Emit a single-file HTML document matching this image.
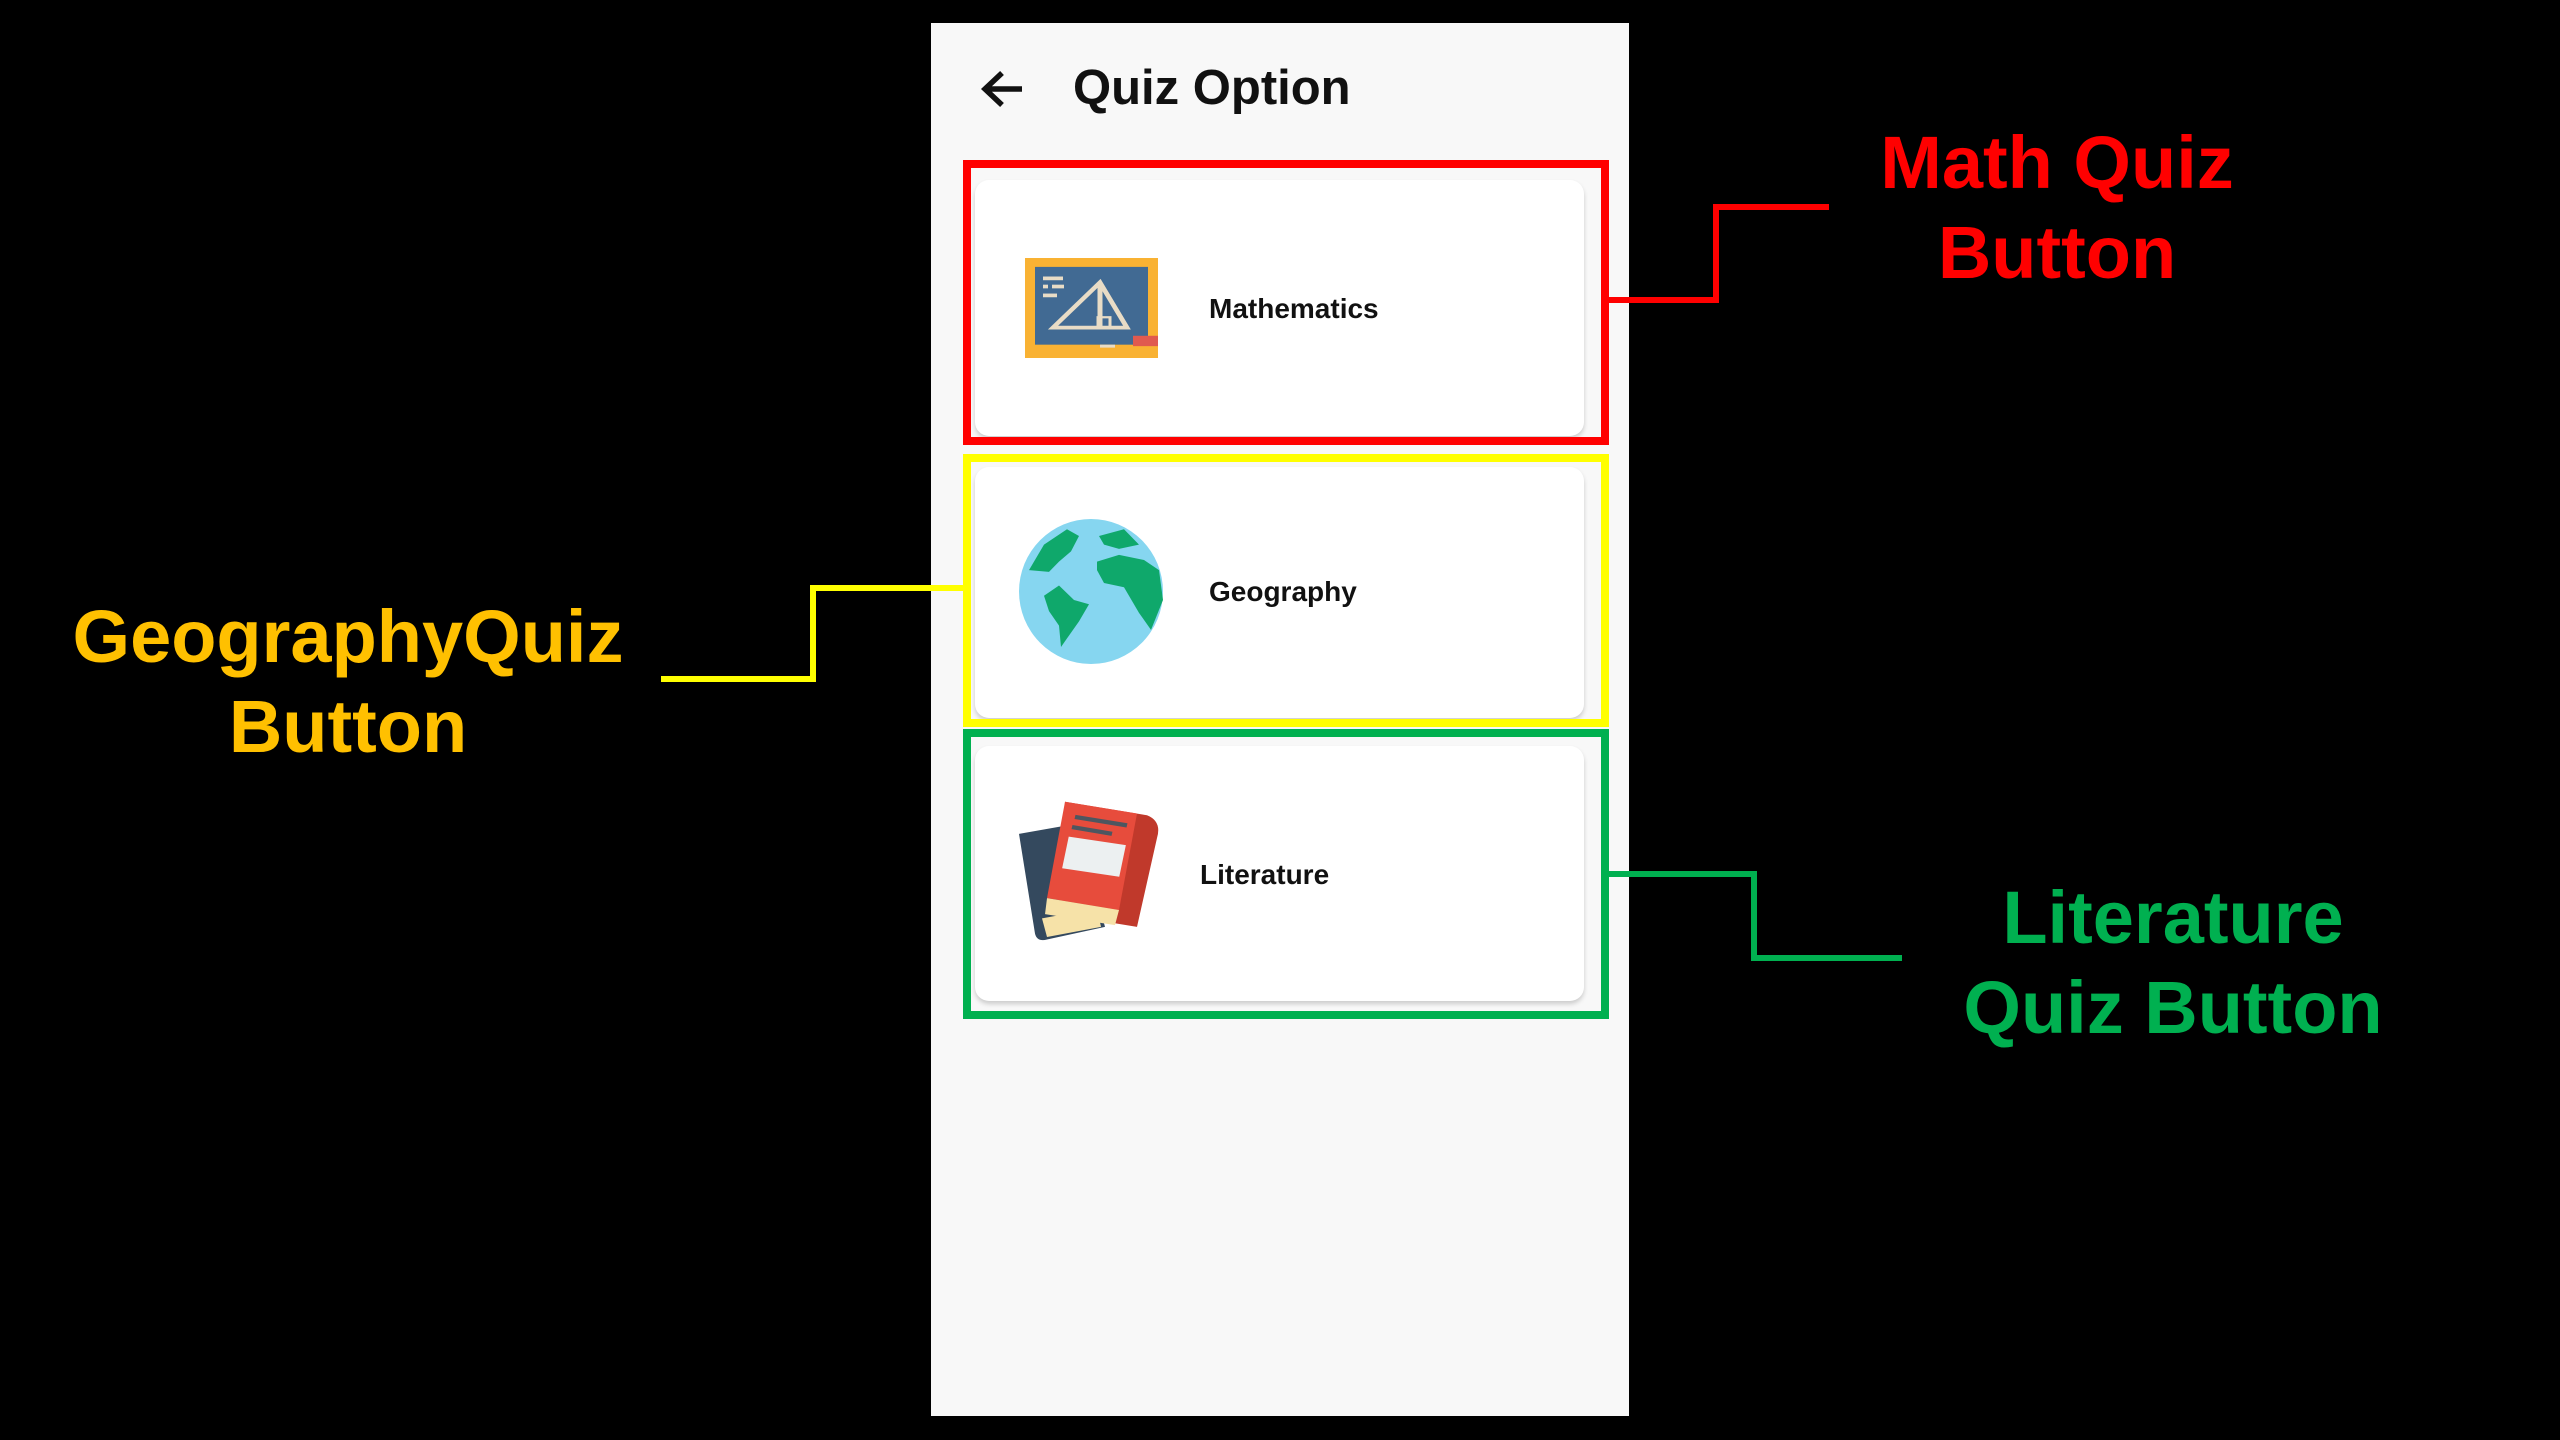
<!DOCTYPE html>
<html><head><meta charset="utf-8"><style>
html,body{margin:0;padding:0;background:#000;width:2560px;height:1440px;overflow:hidden;position:relative;font-family:"Liberation Sans",sans-serif}
.abs{position:absolute}
.phone{left:931px;top:23px;width:698px;height:1393px;background:#f8f8f8}
.card{position:absolute;left:975px;width:609px;background:#fff;border-radius:14px;box-shadow:0 3px 5px rgba(0,0,0,0.18)}
.box{position:absolute;left:963px;width:646px;box-sizing:border-box}
.lbl{position:absolute;font-weight:bold;font-size:28px;color:#111;white-space:nowrap;line-height:32px}
.big{position:absolute;font-weight:bold;font-size:74px;text-align:center;line-height:90px;white-space:nowrap}
</style></head><body>
<div class="abs phone"></div>
<svg class="abs" style="left:980px;top:70px" width="44" height="38" viewBox="0 0 44 38"><path d="M42 19 H6 M22 3 L5 19 L22 35" stroke="#111" stroke-width="5.5" fill="none"/></svg>
<div class="abs" style="left:1073px;top:60px;font-size:49px;line-height:56px;font-weight:bold;color:#111;white-space:nowrap">Quiz Option</div>

<div class="card" style="top:180px;height:256px"></div>
<div class="card" style="top:467px;height:251px"></div>
<div class="card" style="top:746px;height:255px"></div>

<div class="box" style="top:160px;height:285px;border:8px solid #ff0000"></div>
<div class="box" style="top:454px;height:273px;border:8px solid #ffff00"></div>
<div class="box" style="top:729px;height:290px;border:8px solid #00b050"></div>

<!-- math icon -->
<svg class="abs" style="left:1025px;top:258px" width="133" height="100" viewBox="0 0 133 135" preserveAspectRatio="none">
<rect width="133" height="135" fill="#f9b233"/>
<rect x="10" y="12" width="113" height="105" fill="#416a93"/>
<g fill="#e8dcc6"><rect x="18" y="25" width="20" height="5"/><rect x="18" y="36" width="5" height="5"/><rect x="27" y="36" width="12" height="5"/><rect x="18" y="48" width="14" height="5"/></g>
<path d="M28 94 L75 33 L102 94 Z M75 33 L75 94" stroke="#e8dcc6" stroke-width="5" fill="none"/>
<rect x="73" y="80" width="12" height="14" stroke="#e8dcc6" stroke-width="3" fill="none"/>
<rect x="108" y="105" width="25" height="14" fill="#e05a4f"/>
<rect x="75" y="117" width="15" height="4" fill="#e8dcc6"/>
</svg>
<div class="lbl" style="left:1209px;top:293px">Mathematics</div>

<!-- globe -->
<svg class="abs" style="left:1019px;top:519px" width="144" height="145" viewBox="0 0 144 170" preserveAspectRatio="none">
<ellipse cx="72" cy="85" rx="72" ry="85" fill="#86d6f0"/>
<path d="M10 60 L25 30 L48 12 L60 20 L52 38 L40 50 L30 62 Z" fill="#0fa86b"/>
<path d="M25 90 L40 78 L55 95 L70 100 L60 120 L48 140 L42 150 L40 125 L30 108 Z" fill="#0fa86b"/>
<path d="M80 20 L105 12 L120 30 L100 35 L85 30 Z" fill="#0fa86b"/>
<path d="M78 50 L100 42 L125 48 L140 60 L144 95 L132 130 L120 110 L105 80 L85 75 L78 60 Z" fill="#0fa86b"/>
</svg>
<div class="lbl" style="left:1209px;top:576px">Geography</div>

<!-- books -->
<svg class="abs" style="left:1017px;top:800px" width="150" height="148" viewBox="0 0 150 175" preserveAspectRatio="none">
<path d="M2 40 L60 28 L88 150 L30 165 Q20 168 18 158 Z" fill="#34495e"/>
<path d="M25 140 L80 128 L84 150 L30 162 Z" fill="#f6e2a8"/>
<path d="M48 2 L130 18 Q145 25 140 45 L120 150 L42 135 Z" fill="#c0392b"/>
<path d="M48 2 L120 16 L102 130 L30 116 Z" fill="#e74c3c"/>
<rect x="48" y="48" width="58" height="38" fill="#ecf0f1" transform="rotate(10 77 67)"/>
<path d="M58 20 L110 30 M55 32 L95 40" stroke="#4d5660" stroke-width="5"/>
<path d="M30 116 L102 130 L98 148 L28 135 Z" fill="#f6e2a8"/>
</svg>
<div class="lbl" style="left:1200px;top:859px">Literature</div>

<!-- connectors -->
<svg class="abs" style="left:0;top:0" width="2560" height="1440">
<polyline points="1609,300 1716,300 1716,207 1829,207" stroke="#ff0000" stroke-width="6" fill="none"/>
<polyline points="963,588 813,588 813,679 661,679" stroke="#ffff00" stroke-width="6" fill="none"/>
<polyline points="1609,874 1754,874 1754,958 1902,958" stroke="#00b050" stroke-width="6" fill="none"/>
</svg>

<div class="big" style="left:1757px;width:600px;top:118px;color:#ff0000">Math Quiz<br>Button</div>
<div class="big" style="left:48px;width:600px;top:592px;color:#ffc000">GeographyQuiz<br>Button</div>
<div class="big" style="left:1873px;width:600px;top:873px;color:#00b050">Literature<br>Quiz Button</div>
</body></html>
